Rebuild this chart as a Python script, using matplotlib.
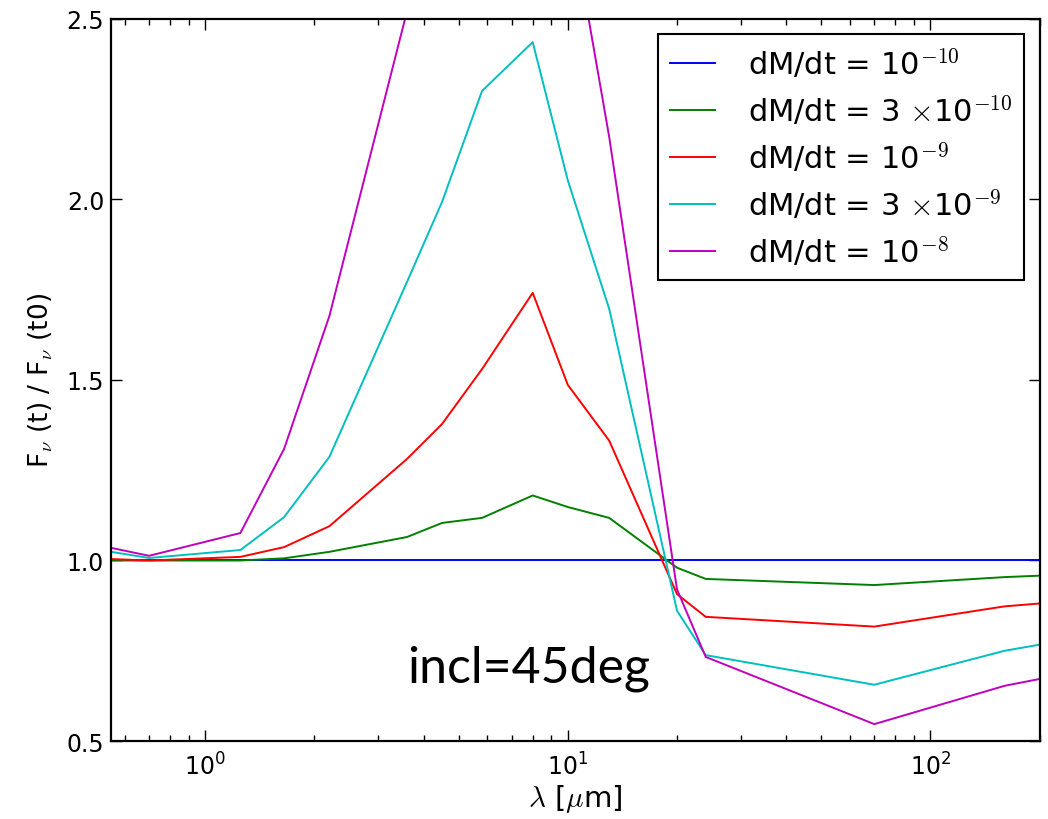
import numpy as np
import matplotlib
matplotlib.use("Agg")
import matplotlib.pyplot as plt

plt.rcParams['mathtext.fontset'] = 'cm'
plt.rcParams['font.family'] = ['DejaVu Sans']

wlen = [0.55, 0.7, 1.25, 1.65, 2.2, 3.6, 4.5, 5.8, 8.0, 10.0, 13.0, 20.0, 24.0, 70.0, 160.0, 250.0]

f_1e10 = [1.0] * len(wlen)
f_3e10 = [1.000, 1.000, 1.000, 1.006, 1.024, 1.065, 1.104, 1.118, 1.180, 1.148, 1.118,
          0.980, 0.949, 0.932, 0.954, 0.962]
f_1e9 = [1.004, 1.000, 1.010, 1.037, 1.095, 1.281, 1.378, 1.530, 1.741, 1.486, 1.332,
         0.907, 0.844, 0.817, 0.873, 0.889]
f_3e9 = [1.024, 1.007, 1.029, 1.120, 1.287, 1.771, 1.993, 2.300, 2.435, 2.052, 1.697,
         0.861, 0.738, 0.656, 0.750, 0.784]
f_1e8 = [1.035, 1.013, 1.076, 1.309, 1.677, 2.520, 2.900, 3.200, 3.400, 2.830, 2.173,
         0.920, 0.733, 0.547, 0.653, 0.691]

labels = [r"dM/dt = 10$^{-10}$",
          r"dM/dt = 3 $\times$10$^{-10}$",
          r"dM/dt = 10$^{-9}$",
          r"dM/dt = 3 $\times$10$^{-9}$",
          r"dM/dt = 10$^{-8}$"]
colors = ["#0000ff", "#008000", "#ff0000", "#00bfbf", "#bf00bf"]

fig = plt.figure(figsize=(10.48, 8.2), dpi=100)
ax = fig.add_axes([0.106, 0.095, 0.886, 0.881])

for ys, lab, c in zip([f_1e10, f_3e10, f_1e9, f_3e9, f_1e8], labels, colors):
    ax.plot(wlen, ys, color=c, lw=1.4, label=lab)

ax.set_xscale("log")
ax.set_xlim(0.55, 200)
ax.set_ylim(0.5, 2.5)
ax.set_yticks([0.5, 1.0, 1.5, 2.0, 2.5])
ax.tick_params(which="both", direction="in", top=True, right=True, labelsize=17)
ax.tick_params(which="major", length=8, width=1)
ax.tick_params(which="minor", length=4, width=1)
ax.tick_params(axis="x", pad=8)
ax.tick_params(axis="y", pad=5)
for s in ax.spines.values():
    s.set_linewidth(1.6)

ax.set_xlabel(r"$\lambda$ [$\mu$m]", fontsize=21, labelpad=2)
ax.set_ylabel(r"F$_\nu$ (t) / F$_\nu$ (t0)", fontsize=19, labelpad=8)

leg = ax.legend(loc="upper right", fontsize=22, labelspacing=0.42, handlelength=1.45,
                handletextpad=1.08, borderaxespad=0.5, fancybox=False, framealpha=1)
leg.get_frame().set_edgecolor("black")
leg.get_frame().set_linewidth(1.5)

ax.text(0.319, 0.082, "incl=45deg", transform=ax.transAxes, fontsize=36,
        family="Lato", va="baseline", ha="left")

plt.savefig("out.png", dpi=100)
